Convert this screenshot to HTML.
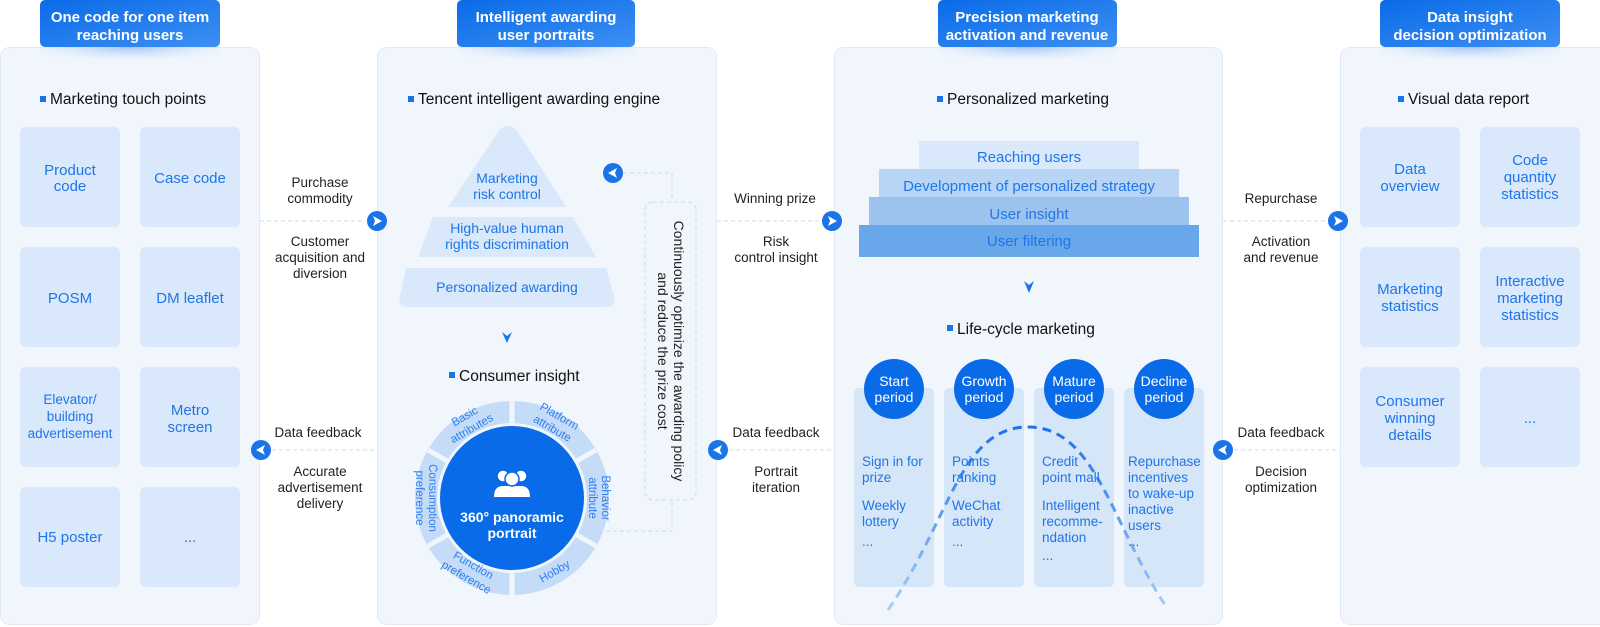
<!DOCTYPE html>
<html><head><meta charset="utf-8"><style>
html,body{margin:0;padding:0;background:#fff}
svg{display:block}
text{font-family:"Liberation Sans",sans-serif}
.b{fill:#1f76e8;font-size:15px}
.k{fill:#222;font-size:13.5px}
.t{fill:#111;font-size:15.5px}
.w{fill:#fff;font-size:15px;font-weight:bold}
.r{fill:#2f7ef0;font-size:11.5px}
</style></head><body>
<svg width="1600" height="627" viewBox="0 0 1600 627">
<defs>
<linearGradient id="hg" x1="0" y1="0" x2="1" y2="1"><stop offset="0" stop-color="#0a6be8"/><stop offset="1" stop-color="#3d8ff2"/></linearGradient>
<radialGradient id="sh" cx="0.5" cy="0" r="0.6"><stop offset="0" stop-color="#7fb3f3" stop-opacity="0.7"/><stop offset="1" stop-color="#cfe2fa" stop-opacity="0"/></radialGradient>
<linearGradient id="cv" x1="0" y1="0" x2="0" y2="1"><stop offset="0" stop-color="#1a73e8"/><stop offset="1" stop-color="#a9cdf7"/></linearGradient>
</defs>
<g fill="#f1f6fc" stroke="#e1ebf7">
<rect x="0.5" y="47.5" width="259" height="577" rx="9"/>
<rect x="377.5" y="47.5" width="339" height="577" rx="9"/>
<rect x="834.5" y="47.5" width="388" height="577" rx="9"/>
<rect x="1340.5" y="47.5" width="270" height="577" rx="9"/>
</g>
<g fill="url(#sh)">
<rect x="40" y="47" width="180" height="25"/><rect x="457" y="47" width="178" height="25"/><rect x="938" y="47" width="179" height="25"/><rect x="1380" y="47" width="180" height="25"/>
</g>
<g fill="url(#hg)">
<rect x="40" y="0" width="180" height="47" rx="5"/>
<rect x="457" y="0" width="178" height="47" rx="5"/>
<rect x="938" y="0" width="179" height="47" rx="5"/>
<rect x="1380" y="0" width="180" height="47" rx="5"/>
</g>
<g class="w" text-anchor="middle">
<text x="130" y="22" class="w">One code for one item</text><text x="130" y="40" class="w">reaching users</text>
<text x="546" y="22" class="w">Intelligent awarding</text><text x="546" y="40" class="w">user portraits</text>
<text x="1027" y="22" class="w">Precision marketing</text><text x="1027" y="40" class="w">activation and revenue</text>
<text x="1470" y="22" class="w">Data insight</text><text x="1470" y="40" class="w">decision optimization</text>
</g>
<g fill="#1a73e8"><rect x="40" y="96" width="6" height="6"/><rect x="408" y="96" width="6" height="6"/><rect x="937" y="96" width="6" height="6"/><rect x="1398" y="96" width="6" height="6"/>
<rect x="449" y="372" width="6" height="6"/><rect x="947" y="325" width="6" height="6"/></g>
<text x="50" y="104" class="t">Marketing touch points</text>
<text x="418" y="104" class="t">Tencent intelligent awarding engine</text>
<text x="947" y="104" class="t">Personalized marketing</text>
<text x="1408" y="104" class="t">Visual data report</text>
<text x="459" y="381" class="t">Consumer insight</text>
<text x="957" y="334" class="t">Life-cycle marketing</text>
<g fill="#d9e8fa">
<rect x="20" y="127" width="100" height="100" rx="6"/><rect x="140" y="127" width="100" height="100" rx="6"/>
<rect x="20" y="247" width="100" height="100" rx="6"/><rect x="140" y="247" width="100" height="100" rx="6"/>
<rect x="20" y="367" width="100" height="100" rx="6"/><rect x="140" y="367" width="100" height="100" rx="6"/>
<rect x="20" y="487" width="100" height="100" rx="6"/><rect x="140" y="487" width="100" height="100" rx="6"/>
<rect x="1360" y="127" width="100" height="100" rx="6"/><rect x="1480" y="127" width="100" height="100" rx="6"/>
<rect x="1360" y="247" width="100" height="100" rx="6"/><rect x="1480" y="247" width="100" height="100" rx="6"/>
<rect x="1360" y="367" width="100" height="100" rx="6"/><rect x="1480" y="367" width="100" height="100" rx="6"/>
</g>
<g class="b" text-anchor="middle">
<text x="70" y="175">Product</text><text x="70" y="191">code</text>
<text x="190" y="183">Case code</text>
<text x="70" y="303">POSM</text><text x="190" y="303">DM leaflet</text>
<text x="70" y="404" style="font-size:13.5px">Elevator/</text><text x="70" y="421" style="font-size:13.5px">building</text><text x="70" y="438" style="font-size:13.5px">advertisement</text>
<text x="190" y="415">Metro</text><text x="190" y="432">screen</text>
<text x="70" y="542">H5 poster</text><text x="190" y="542">...</text>
<text x="1410" y="174">Data</text><text x="1410" y="191">overview</text>
<text x="1530" y="165">Code</text><text x="1530" y="182">quantity</text><text x="1530" y="199">statistics</text>
<text x="1410" y="294">Marketing</text><text x="1410" y="311">statistics</text>
<text x="1530" y="286">Interactive</text><text x="1530" y="303">marketing</text><text x="1530" y="320">statistics</text>
<text x="1410" y="406">Consumer</text><text x="1410" y="423">winning</text><text x="1410" y="440">details</text>
<text x="1530" y="423">...</text>
</g>
<g stroke="#c9dcf3" stroke-dasharray="4 3" fill="none">
<line x1="260" y1="221" x2="366" y2="221"/><line x1="272" y1="450" x2="377" y2="450"/>
<line x1="717" y1="221" x2="821" y2="221"/><line x1="729" y1="450" x2="834" y2="450"/>
<line x1="1223" y1="221" x2="1327" y2="221"/><line x1="1234" y1="450" x2="1340" y2="450"/>
<path d="M623 173 H672 V202"/><path d="M606 531 H672 V500"/>
<rect x="645" y="202" width="51" height="298" rx="8"/>
</g>
<g fill="#1a73e8">
<circle cx="377" cy="221" r="10"/><circle cx="261" cy="450" r="10"/><circle cx="832" cy="221" r="10"/><circle cx="718" cy="450" r="10"/><circle cx="1338" cy="221" r="10"/><circle cx="1223" cy="450" r="10"/><circle cx="613" cy="173" r="10"/>
</g>
<g fill="#fff">
<path d="M373 216 L382 221 L373 226 L375 221Z"/><path d="M1334 216 L1343 221 L1334 226 L1336 221Z"/><path d="M828 216 L837 221 L828 226 L830 221Z"/>
<path d="M265 445 L256 450 L265 455 L263 450Z"/><path d="M722 445 L713 450 L722 455 L720 450Z"/><path d="M1227 445 L1218 450 L1227 455 L1225 450Z"/><path d="M617 168 L608 173 L617 178 L615 173Z"/>
</g>
<g class="k" text-anchor="middle">
<text x="320" y="187">Purchase</text><text x="320" y="203">commodity</text>
<text x="320" y="246">Customer</text><text x="320" y="262">acquisition and</text><text x="320" y="278">diversion</text>
<text x="318" y="437">Data feedback</text>
<text x="320" y="476">Accurate</text><text x="320" y="492">advertisement</text><text x="320" y="508">delivery</text>
<text x="775" y="203">Winning prize</text>
<text x="776" y="246">Risk</text><text x="776" y="262">control insight</text>
<text x="776" y="437">Data feedback</text>
<text x="776" y="476">Portrait</text><text x="776" y="492">iteration</text>
<text x="1281" y="203">Repurchase</text>
<text x="1281" y="246">Activation</text><text x="1281" y="262">and revenue</text>
<text x="1281" y="437">Data feedback</text>
<text x="1281" y="476">Decision</text><text x="1281" y="492">optimization</text>
</g>
<g transform="translate(670,351) rotate(90)" text-anchor="middle" class="k">
<text x="0" y="-4" style="font-size:14px">Continuously optimize the awarding policy</text>
<text x="0" y="12" style="font-size:14px">and reduce the prize cost</text>
</g>
<g fill="#d9e8fa">
<path d="M448 207 L498 132 Q508 120 518 132 L566 207Z"/>
<path d="M433 217 L573 217 L596 257 L418 257Z"/>
<path d="M406 268 L606 268 L614 296 Q617 307 605 307 L409 307 Q397 307 400 296Z"/>
</g>
<g class="b" text-anchor="middle">
<text x="507" y="183" style="font-size:14px">Marketing</text><text x="507" y="199" style="font-size:14px">risk control</text>
<text x="507" y="233" style="font-size:14px">High-value human</text><text x="507" y="249" style="font-size:14px">rights discrimination</text>
<text x="507" y="292" style="font-size:14px">Personalized awarding</text>
</g>
<path d="M502 332 L507 343 L512 332 L507 336Z" fill="#1a73e8"/>
<path d="M1024 281 L1029 293 L1034 281 L1029 285Z" fill="#1a73e8"/>
<circle cx="512" cy="498" r="97" fill="#c4dcf7"/>
<g stroke="#f1f6fc" stroke-width="5">
<line x1="512" y1="401" x2="512" y2="595"/>
<line x1="428" y1="450" x2="596" y2="546"/>
<line x1="428" y1="546" x2="596" y2="450"/>
</g>
<circle cx="512" cy="498" r="75" fill="#f1f6fc"/>
<circle cx="512" cy="498" r="72" fill="#0a6be8"/>
<g fill="#fff">
<path d="M494 497 Q494 486 503 486 L521 486 Q530 486 530 497Z"/>
<circle cx="503" cy="476" r="6" stroke="#0a6be8" stroke-width="1.5"/><circle cx="521" cy="476" r="6" stroke="#0a6be8" stroke-width="1.5"/><circle cx="512" cy="479" r="7" stroke="#0a6be8" stroke-width="1.5"/>
</g>
<text x="512" y="522" text-anchor="middle" class="w" style="font-size:14px">360° panoramic</text>
<text x="512" y="538" text-anchor="middle" class="w" style="font-size:14px">portrait</text>
<g class="r" text-anchor="middle" dominant-baseline="central">
<text transform="translate(465,417) rotate(-30)">Basic</text>
<text transform="translate(472,429) rotate(-30)">attributes</text>
<text transform="translate(559,417) rotate(30)">Platform</text>
<text transform="translate(552,429) rotate(30)">attribute</text>
<text transform="translate(605,498) rotate(90)">Behavior</text>
<text transform="translate(592,498) rotate(90)">attribute</text>
<text transform="translate(432,498) rotate(90)">Consumption</text>
<text transform="translate(419,498) rotate(90)">preference</text>
<text transform="translate(473,566) rotate(30)">Function</text>
<text transform="translate(466,578) rotate(30)">preference</text>
<text transform="translate(555,572) rotate(-30)">Hobby</text>
</g>
<rect x="919" y="141" width="220" height="32" fill="#d9e8fa"/>
<rect x="879" y="169" width="300" height="32" fill="#b9d5f5"/>
<rect x="869" y="197" width="320" height="32" fill="#9cc2ee"/>
<rect x="859" y="225" width="340" height="32" fill="#68a7ea"/>
<g class="b" text-anchor="middle">
<text x="1029" y="162">Reaching users</text>
<text x="1029" y="191">Development of personalized strategy</text>
<text x="1029" y="219">User insight</text>
<text x="1029" y="246">User filtering</text>
</g>
<g fill="#d6e6f9">
<rect x="854" y="388" width="80" height="199" rx="5"/><rect x="944" y="388" width="80" height="199" rx="5"/><rect x="1034" y="388" width="80" height="199" rx="5"/><rect x="1124" y="388" width="80" height="199" rx="5"/>
</g>
<path d="M888 610 C950 520 960 427 1028 427 C1095 427 1110 520 1165 605" fill="none" stroke="url(#cv)" stroke-width="3" stroke-dasharray="9 6"/>
<g fill="#0a6be8">
<circle cx="894" cy="389" r="30"/><circle cx="984" cy="389" r="30"/><circle cx="1074" cy="389" r="30"/><circle cx="1164" cy="389" r="30"/>
</g>
<g fill="#fff" text-anchor="middle" style="font-size:14px">
<text x="894" y="386">Start</text><text x="894" y="402">period</text>
<text x="984" y="386">Growth</text><text x="984" y="402">period</text>
<text x="1074" y="386">Mature</text><text x="1074" y="402">period</text>
<text x="1164" y="386">Decline</text><text x="1164" y="402">period</text>
</g>
<g fill="#1f76e8" style="font-size:13.5px">
<text x="862" y="466">Sign in for</text><text x="862" y="482">prize</text>
<text x="862" y="510">Weekly</text><text x="862" y="526">lottery</text><text x="862" y="546">...</text>
<text x="952" y="466">Points</text><text x="952" y="482">ranking</text>
<text x="952" y="510">WeChat</text><text x="952" y="526">activity</text><text x="952" y="546">...</text>
<text x="1042" y="466">Credit</text><text x="1042" y="482">point mall</text>
<text x="1042" y="510">Intelligent</text><text x="1042" y="526">recomme-</text><text x="1042" y="542">ndation</text><text x="1042" y="560">...</text>
<text x="1128" y="466">Repurchase</text><text x="1128" y="482">incentives</text><text x="1128" y="498">to wake-up</text><text x="1128" y="514">inactive</text><text x="1128" y="530">users</text><text x="1128" y="546">...</text>
</g>
</svg>
</body></html>
